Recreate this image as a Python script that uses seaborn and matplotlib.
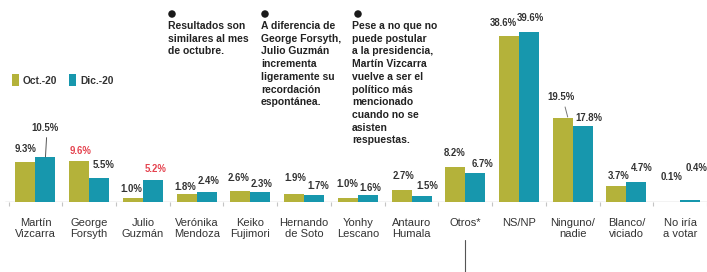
import numpy as np
import pandas as pd
import seaborn as sns
import matplotlib
matplotlib.use("Agg")
import matplotlib.pyplot as plt
from matplotlib.patches import Rectangle, Ellipse
from matplotlib.transforms import blended_transform_factory

# ---------------- data ----------------
categories = ["Martín\nVizcarra", "George\nForsyth", "Julio\nGuzmán", "Verónika\nMendoza",
              "Keiko\nFujimori", "Hernando\nde Soto", "Yonhy\nLescano", "Antauro\nHumala",
              "Otros*", "NS/NP", "Ninguno/\nnadie", "Blanco/\nviciado", "No iría\na votar"]
series_names = ["Oct.-20", "Dic.-20"]
oct_values = [9.3, 9.6, 1.0, 1.8, 2.6, 1.9, 1.0, 2.7, 8.2, 38.6, 19.5, 3.7, 0.1]
dic_values = [10.5, 5.5, 5.2, 2.4, 2.3, 1.7, 1.6, 1.5, 6.7, 39.6, 17.8, 4.7, 0.4]
oct_highlight = [1]   # red label
dic_highlight = [2]   # red label

notes = [
    "Resultados son\nsimilares al mes\nde octubre.",
    "A diferencia de\nGeorge Forsyth,\nJulio Guzmán\nincrementa\nligeramente su\nrecordación\nespontánea.",
    "Pese a no que no\npuede postular\na la presidencia,\nMartín Vizcarra\nvuelve a ser el\npolítico más\nmencionado\ncuando no se\nasisten\nrespuestas.",
]

# ---------------- layout / style ----------------
OLIVE = "#b4b23a"
TEAL = "#1797ad"
RED = "#e5434f"
DARK = "#333333"
W, H = 707, 272

# label offsets (pixels) relative to top-centre of each bar
oct_dx = [0.5, 1.7, -2, -1, -1.5, 1.5, 0, 2, -1, -6, -1.5, 2, 1]
oct_dy = [13, 10, 9, 7, 13, 16, 14, 14, 14, 13, 21, 10, 25]
dic_dx = [0, 4.7, 3, 2, 1.5, 4.5, 3, 6, 7, 1, 6.5, 5, 6]
dic_dy = [29, 13, 11, 11, 8, 9, 7, 10, 9, 14, 8, 14, 32]

sns.set_theme(style="white")
plt.rcParams["font.family"] = ["Liberation Sans", "DejaVu Sans"]

df = pd.DataFrame({
    "cat": categories * 2,
    "period": [series_names[0]] * len(categories) + [series_names[1]] * len(categories),
    "val": oct_values + dic_values,
})

fig = plt.figure(figsize=(W / 100, H / 100), dpi=100)
ax = fig.add_axes([0, 70 / H, 1, 202 / H])

sns.barplot(data=df, x="cat", y="val", hue="period", order=categories,
            hue_order=series_names, palette=[OLIVE, TEAL], width=0.745,
            saturation=1, linewidth=0, ax=ax, legend=False, errorbar=None)

ax.set_xlim(-0.66, 12.48)
ax.set_ylim(0, 47.09)
for s in ax.spines.values():
    s.set_visible(False)
ax.set_yticks([])
ax.set_xlabel("")
ax.set_ylabel("")
ax.axhline(0, xmin=0.007, xmax=1, color="#c4c4c4", lw=1, zorder=0)

ax.set_xticks(range(len(categories)))
ax.set_xticklabels(categories, fontsize=8.0, color=DARK, linespacing=1.05)
ax.tick_params(axis="x", which="major", length=0, pad=11.8)
ax.set_xticks(np.arange(-0.5, len(categories), 1), minor=True)
ax.tick_params(axis="x", which="minor", length=3, width=0.8, color="#c4c4c4",
               direction="out", bottom=True)

# value labels
def fmt(v):
    return f"{v:.1f}%"

label_kw = dict(textcoords="offset pixels", ha="center", va="center",
                fontsize=6.9, fontweight="bold")
for k, (cont, vals, dxs, dys, hl) in enumerate([
        (ax.containers[0], oct_values, oct_dx, oct_dy, oct_highlight),
        (ax.containers[1], dic_values, dic_dx, dic_dy, dic_highlight)]):
    for i, (bar, v) in enumerate(zip(cont, vals)):
        cx = bar.get_x() + bar.get_width() / 2
        top = bar.get_height()
        color = RED if i in hl else DARK
        extra = {}
        if k == 1 and i == 0:
            extra = dict(arrowprops=dict(arrowstyle="-", color="#555555", lw=0.7,
                                         shrinkA=1, shrinkB=0, relpos=(0.55, 0)))
        if k == 0 and i == 10:
            extra = dict(arrowprops=dict(arrowstyle="-", color="#777777", lw=0.7,
                                         shrinkA=1, shrinkB=1, relpos=(0.6, 0)))
            ax.annotate(fmt(v), xy=(cx + 0.1, top), xytext=(dxs[i] - 5.4, dys[i]),
                        color=color, **label_kw, **extra)
            continue
        ax.annotate(fmt(v), xy=(cx, top), xytext=(dxs[i], dys[i]), color=color,
                    **label_kw, **extra)

# line below "Otros*"
trans = blended_transform_factory(ax.transData, fig.transFigure)
ax.plot([8, 8], [1 - 240 / H, 0], transform=trans, clip_on=False,
        color="#555555", lw=0.8)

# legend
def fx(x):
    return x / W

def fy(y):
    return 1 - y / H

for x0, col, name, tx in [(12, OLIVE, series_names[0], 23), (69, TEAL, series_names[1], 80)]:
    fig.patches.append(Rectangle((fx(x0), fy(86)), 7 / W, 12 / H, transform=fig.transFigure,
                                 facecolor=col, edgecolor="none"))
    fig.text(fx(tx), fy(80.5), name, fontsize=7.4, fontweight="bold", color=DARK,
             ha="left", va="center")

# notes
for (bx, tx), txt in zip([(172, 168), (265, 261), (358, 352)], notes):
    fig.patches.append(Ellipse((fx(bx), fy(14)), 7.5 / W, 7.5 / H, transform=fig.transFigure,
                               facecolor="#1a1a1a", edgecolor="none"))
    fig.text(fx(tx), fy(21), txt, fontsize=7.5, fontweight="bold", color="#222222",
             ha="left", va="top", linespacing=1.34)

fig.savefig("out.png", dpi=100)
